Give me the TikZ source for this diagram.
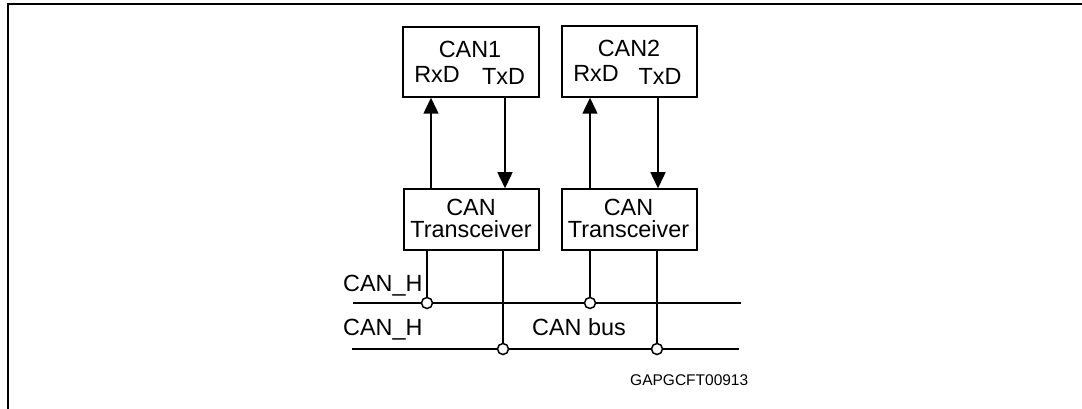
\documentclass[tikz,border=0pt]{standalone}
\usepackage{fontspec}
\setmainfont{Liberation Sans}
\usetikzlibrary{arrows.meta}
\begin{document}
\begin{tikzpicture}[x=1pt,y=-1pt,
  box/.style={draw,line width=1.5pt,inner sep=0pt},
  lbl/.style={inner sep=0pt,anchor=base,font=\fontsize{23.4}{22}\selectfont},
  lblw/.style={inner sep=0pt,anchor=base west,font=\fontsize{23.4}{22}\selectfont},
  wire/.style={line width=1.5pt},
  arr/.style={line width=1.5pt,-{Triangle[width=15pt,length=16pt]}},
  bus/.style={line width=2pt},
  junc/.style={circle,draw,line width=1.5pt,fill=white,inner sep=0pt,minimum size=11pt}]
\useasboundingbox (0,0) rectangle (1082,409);
% frame
\draw[line width=2pt] (8,409) -- (8,4) -- (1082,4);
% controller boxes
\node[box,minimum width=136pt,minimum height=70pt] (can1) at (471,62) {};
\node[box,minimum width=135pt,minimum height=71pt] (can2) at (629.5,61.5) {};
\node[lbl] (t1) at (470,58) {CAN1};
\node[lbl] (rx1) at (437,83) {RxD};
\node[lbl] (tx1) at (503.5,85) {TxD};
\node[lbl] (t2) at (629,57) {CAN2};
\node[lbl] (rx2) at (596,82) {RxD};
\node[lbl] (tx2) at (660,85) {TxD};
% transceivers
\node[box,minimum width=135pt,minimum height=61pt] (tr1) at (471.5,219.5) {};
\node[box,minimum width=135pt,minimum height=61pt] (tr2) at (629.5,219.5) {};
\node[lbl] (tra) at (471,215) {CAN};
\node[lbl] (trb) at (471,237) {Transceiver};
\node[lbl] (trc) at (628.5,215) {CAN};
\node[lbl] (trd) at (628.5,237) {Transceiver};
% columns
\coordinate (a1) at (431,0);
\coordinate (a2) at (505,0);
\coordinate (a3) at (590,0);
\coordinate (a4) at (658,0);
\draw[arr] (tr1.north -| a1) -- (can1.south -| a1);
\draw[arr] (can1.south -| a2) -- (tr1.north -| a2);
\draw[arr] (tr2.north -| a3) -- (can2.south -| a3);
\draw[arr] (can2.south -| a4) -- (tr2.north -| a4);
% bus
\coordinate (hl) at (353,303);
\coordinate (hr) at (741,303);
\coordinate (ll) at (352,349);
\coordinate (lr) at (739,349);
\draw[bus] (hl) -- (hr);
\draw[bus] (ll) -- (lr);
\node[junc] (j1) at (427,303) {};
\node[junc] (j2) at (590,303) {};
\node[junc] (j3) at (503,349) {};
\node[junc] (j4) at (657,349) {};
\draw[wire] (tr1.south -| j1) -- (j1.north);
\draw[wire] (tr1.south -| j3) -- (j3.north);
\draw[wire] (tr2.south -| j2) -- (j2.north);
\draw[wire] (tr2.south -| j4) -- (j4.north);
% labels
\node[lblw] (h1) at (343,291) {CAN\_H};
\node[lblw] (h2) at (343,335) {CAN\_H};
\node[lblw] (cb) at (532,335) {CAN bus};
\node[inner sep=0pt,anchor=base west,font=\fontsize{15.5}{16}\selectfont] (id) at (630,385) {GAPGCFT00913};
\end{tikzpicture}
\end{document}
